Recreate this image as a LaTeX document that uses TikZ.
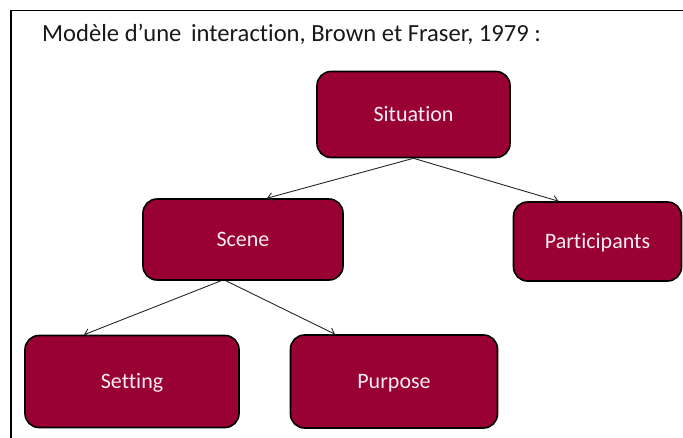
\documentclass[tikz,border=0pt]{standalone}
\usepackage{fontspec}
\setmainfont{Carlito}[Ligatures=NoCommon]
\usetikzlibrary{calc,arrows.meta}
\definecolor{boxred}{HTML}{990033}
\definecolor{boxtext}{HTML}{F8EEF2}
\tikzset{
  box/.style={draw=black, line width=1.6pt, fill=boxred, rounded corners=14pt,
    text=boxtext, font=\fontsize{22}{26}\selectfont, inner sep=0pt, align=center,
    text depth=1pt},
  link/.style={draw=black!85, line width=0.9pt, -{Straight Barb[length=5pt,width=8pt]}},
}
\begin{document}
\begin{tikzpicture}[x=1pt,y=-1pt]
\useasboundingbox (0,0) rectangle (683,437);
\draw[line width=1.3pt] (11,445) -- (11,10.5) -- (690,10.5);
\node[anchor=base west, inner sep=0pt, font=\fontsize{24.6}{28}\selectfont, text=black!90] (title) at (42,41.5) {Modèle d’une\, interaction, Brown et Fraser, 1979 :};
\node[box, minimum width=193pt, minimum height=86pt] (sit) at (413.5,114.5) {Situation};
\node[box, minimum width=200pt, minimum height=81pt] (scene) at (243,239.5) {Scene};
\node[box, minimum width=168pt, minimum height=79pt] (part) at (597.5,241.5) {Participants};
\node[box, minimum width=214pt, minimum height=92pt] (set) at (132,381.5) {Setting};
\node[box, minimum width=207pt, minimum height=93pt] (purp) at (394,381.5) {Purpose};
\draw[link] (sit.south) -- ($(scene.north)+(24,0)$);
\draw[link] (sit.south) -- ($(part.north)+(-39,0)$);
\draw[link] ($(scene.south)+(-22,0)$) -- ($(set.north)+(-48,0)$);
\draw[link] ($(scene.south)+(-17,0)$) -- ($(purp.north)+(-59,0)$);
\end{tikzpicture}
\end{document}
